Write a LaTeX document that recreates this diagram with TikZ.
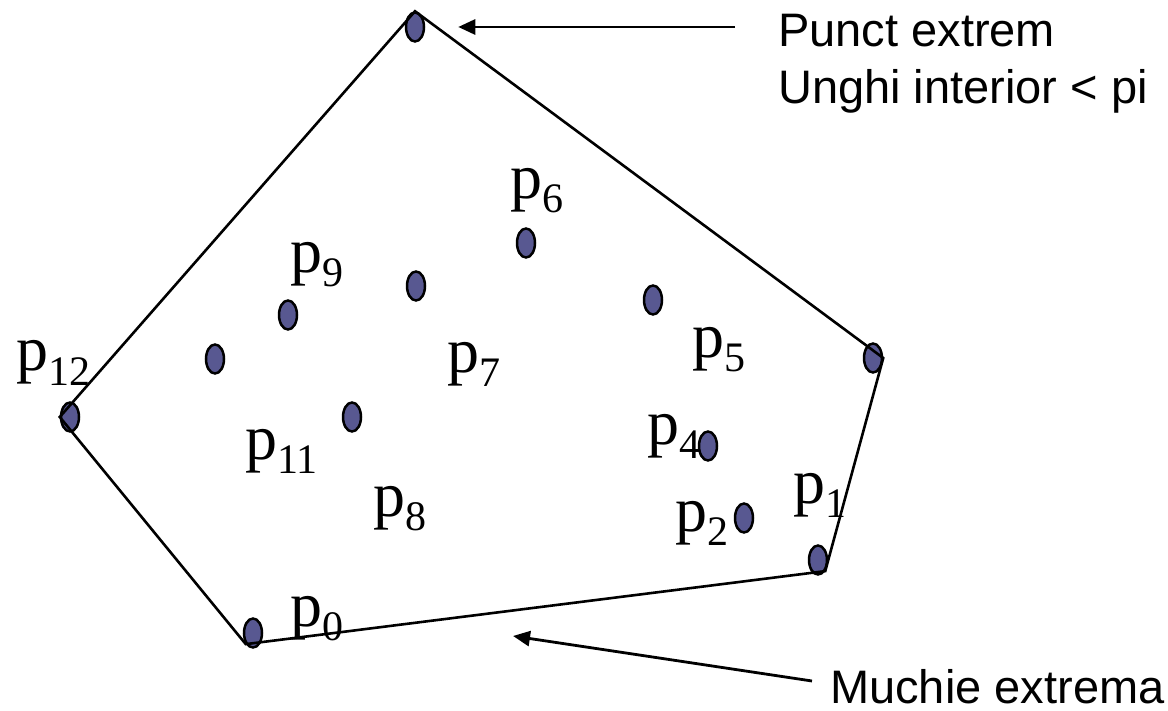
\documentclass[tikz,border=0pt]{standalone}
\usepackage{fontspec}
\setmainfont{Liberation Serif}
\newfontfamily\arialfont{Liberation Sans}
\usetikzlibrary{shapes.geometric,arrows.meta}
\pgfdeclarelayer{edgelayer}
\pgfdeclarelayer{nodelayer}
\pgfsetlayers{nodelayer,edgelayer,main}
\definecolor{ptblue}{RGB}{88,88,145}
\tikzstyle{edge}=[draw=black, line width=2.6pt]
\tikzstyle{arrowline}=[draw=black, line width=2.8pt, -{Triangle[length=17pt,width=15pt]}]
\tikzstyle{vertex}=[ellipse, fill=ptblue, draw=black, line width=2.5pt, minimum width=18pt, minimum height=29pt, inner sep=0pt]
\tikzstyle{plabel}=[anchor=base west, inner sep=0pt, font=\fontsize{64}{64}\selectfont]
\tikzstyle{note}=[anchor=base west, inner sep=0pt, font=\arialfont\fontsize{47}{47}\selectfont]
\newcommand{\psub}[1]{p\raisebox{-14pt}{\fontsize{42}{42}\selectfont #1}}

\begin{document}
\begin{tikzpicture}[x=1pt, y=-1pt]
			\useasboundingbox (0,0) rectangle (1168,711);
			\begin{pgfonlayer}{nodelayer}
			\node [style=vertex] (0) at (253, 633) {};
			\node [style=vertex] (1) at (818, 560) {};
			\node [style=vertex] (2) at (744, 518) {};
			\node [style=vertex] (3) at (873, 358) {};
			\node [style=vertex] (4) at (708, 446) {};
			\node [style=vertex] (5) at (653, 300) {};
			\node [style=vertex] (6) at (526, 243) {};
			\node [style=vertex] (7) at (416, 286) {};
			\node [style=vertex] (8) at (352, 417) {};
			\node [style=vertex] (9) at (288, 315) {};
			\node [style=vertex] (10) at (415, 27) {};
			\node [style=vertex] (11) at (215, 359) {};
			\node [style=vertex] (12) at (70, 417) {};
			\end{pgfonlayer}
			\node [style=plabel] (l0) at (290, 626) {\psub{0}};
			\node [style=plabel] (l1) at (793, 503) {\psub{1}};
			\node [style=plabel] (l2) at (675, 531) {\psub{2}};
			\node [style=plabel] (l4) at (647, 444) {\psub{4}};
			\node [style=plabel] (l5) at (692, 358) {\psub{5}};
			\node [style=plabel] (l6) at (510, 199) {\psub{6}};
			\node [style=plabel] (l7) at (447, 373) {\psub{7}};
			\node [style=plabel] (l8) at (373, 516) {\psub{8}};
			\node [style=plabel] (l9) at (290, 273) {\psub{9}};
			\node [style=plabel] (l11) at (245, 459) {\psub{11}};
			\node [style=plabel] (l12) at (16, 371) {\psub{12}};
			\node [style=note] (extrem) at (778, 47) {Punct extrem};
			\node [style=note] (unghi) at (778, 104) {Unghi interior < pi};
			\node [style=note] (muchie) at (830, 703) {Muchie extrema};
			\coordinate (a1) at (735, 27);
			\coordinate (b1) at (812, 681);
			\coordinate (b2) at (513, 636);
			\begin{pgfonlayer}{edgelayer}
			\draw [style=edge] (10.north) -- (3.east) -- (1.south east) -- (0.south west) -- (12.west) -- cycle;
			\draw [style=arrowline, shorten >=33pt] (a1) to (10);
			\draw [style=arrowline] (b1) to (b2);
			\end{pgfonlayer}
\end{tikzpicture}
\end{document}
